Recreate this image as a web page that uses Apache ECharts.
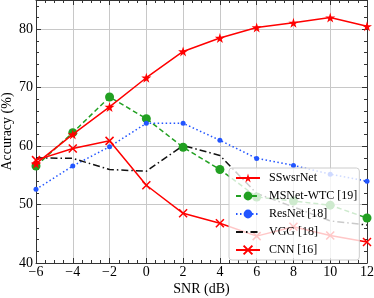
<!DOCTYPE html>
<html><head><meta charset="utf-8">
<script src="https://cdn.jsdelivr.net/npm/echarts@6/dist/echarts.min.js"></script>
<style>html,body{margin:0;padding:0;background:#fff}#c{width:374px;height:298px}</style>
</head><body><div id="c"></div>
<script>
const snr = [-6, -4, -2, 0, 2, 4, 6, 8, 10, 12];
const sswsrNet = [57.0, 62.0, 66.7, 71.7, 76.2, 78.5, 80.3, 81.1, 82.0, 80.5];
const msnetWtc = [56.6, 62.3, 68.4, 64.7, 59.8, 56.0, 51.3, 50.6, 49.9, 47.7];
const resNet = [52.6, 56.6, 59.9, 63.9, 63.9, 61.0, 57.9, 56.7, 55.2, 54.0];
const vgg = [58.0, 57.9, 56.0, 55.7, 60.1, 58.4, 51.9, 49.6, 47.2, 46.5];
const cnn = [57.6, 59.6, 60.9, 53.3, 48.5, 46.8, 44.6, 46.2, 44.7, 43.6];
const seriesNames = ['SSwsrNet', 'MSNet-WTC [19]', 'ResNet [18]', 'VGG [18]', 'CNN [16]'];
const xTicks = {min: -6, max: 12, step: 2};
const yTicks = {min: 40, max: 85, step: 10};

const FONT = 'Liberation Serif';
const STAR = 'path://M50,0L61,35L98,35L68,57L79,91L50,70L21,91L32,57L2,35L39,35Z';
const XMARK = 'path://M0,0L10,10M10,0L0,10';
const pair = arr => snr.map((x, i) => [x, arr[i]]);
const minusFmt = v => v < 0 ? '\u2212' + (-v) : String(v);

const baseX = {
  type: 'value', min: xTicks.min, max: xTicks.max, interval: xTicks.step,
  axisLine: {show: true, onZero: false, lineStyle: {color: '#333', width: 1}},
  axisTick: {show: true, inside: true, length: 5, lineStyle: {color: '#333'}},
  minorTick: {show: true, splitNumber: 4, length: 3, lineStyle: {color: '#333'}},
};
const baseY = {
  type: 'value', min: yTicks.min, max: yTicks.max, interval: yTicks.step,
  axisLine: {show: true, onZero: false, lineStyle: {color: '#333', width: 1}},
  axisTick: {show: true, inside: true, length: 5, lineStyle: {color: '#333'}},
  minorTick: {show: true, splitNumber: 5, length: 3, lineStyle: {color: '#333'}},
};

const option = {
  animation: false,
  grid: {left: 36, right: 7, top: 0, bottom: 35, containLabel: false, outerBoundsMode: 'none'},
  xAxis: [
    Object.assign({}, baseX, {
      position: 'bottom',
      splitLine: {show: true, lineStyle: {color: '#c8c8c8', width: 1}},
      axisLabel: {fontFamily: FONT, fontSize: 14, color: '#000', margin: 2, formatter: minusFmt},
      name: 'SNR (dB)', nameLocation: 'middle', nameGap: 19, nameMoveOverlap: false,
      nameTextStyle: {fontFamily: FONT, fontSize: 14, color: '#000'}
    }),
    Object.assign({}, baseX, {position: 'top', axisLabel: {show: false}, splitLine: {show: false}})
  ],
  yAxis: [
    Object.assign({}, baseY, {
      position: 'left',
      splitLine: {show: true, lineStyle: {color: '#c8c8c8', width: 1}},
      axisLabel: {fontFamily: FONT, fontSize: 14, color: '#000', margin: 3,
        formatter: v => (v % 10 === 0 ? String(v) : '')},
      name: 'Accuracy (%)', nameLocation: 'middle', nameGap: 22, nameMoveOverlap: false,
      nameTextStyle: {fontFamily: FONT, fontSize: 14, color: '#000'}
    }),
    Object.assign({}, baseY, {position: 'right', axisLabel: {show: false}, splitLine: {show: false}})
  ],
  legend: {
    orient: 'vertical', left: 229, top: 168, z: 20,
    backgroundColor: 'rgba(255,255,255,0.78)', borderColor: '#cccccc', borderWidth: 1, borderRadius: 3,
    padding: [4, 2, 4, 6], itemWidth: 24, itemHeight: 11, itemGap: 6,
    textStyle: {fontFamily: FONT, fontSize: 12, color: '#000', padding: [0, 0, 0, 4]},
    data: seriesNames
  },
  series: [
    {name: seriesNames[0], type: 'line', data: pair(sswsrNet), symbol: STAR, symbolSize: 10,
      color: '#ff0000', lineStyle: {width: 1.5, color: '#ff0000'}, itemStyle: {color: '#ff0000'}, z: 3},
    {name: seriesNames[1], type: 'line', data: pair(msnetWtc), symbol: 'circle', symbolSize: 9,
      color: '#22a022', lineStyle: {width: 1.5, type: [5, 3], color: '#22a022'}, itemStyle: {color: '#22a022'}, z: 2},
    {name: seriesNames[2], type: 'line', data: pair(resNet), symbol: 'circle', symbolSize: 5,
      color: '#2255ff', lineStyle: {width: 1.5, type: [1.5, 2.5], color: '#2255ff'}, itemStyle: {color: '#2255ff'}, z: 2},
    {name: seriesNames[3], type: 'line', data: pair(vgg), symbol: 'circle', symbolSize: 0, showSymbol: false,
      color: '#111111', lineStyle: {width: 1.5, type: [7, 3, 1.5, 3], color: '#111111'},
      itemStyle: {color: 'rgba(0,0,0,0)'}, z: 2},
    {name: seriesNames[4], type: 'line', data: pair(cnn), symbol: XMARK, symbolSize: 8,
      color: '#ff0000', lineStyle: {width: 1.5, color: '#ff0000'},
      itemStyle: {color: 'rgba(0,0,0,0)', borderColor: '#ff0000', borderWidth: 1.5}, z: 2}
  ]
};
const chart = echarts.init(document.getElementById('c'), null, {renderer: 'canvas'});
chart.setOption(option);
</script></body></html>
